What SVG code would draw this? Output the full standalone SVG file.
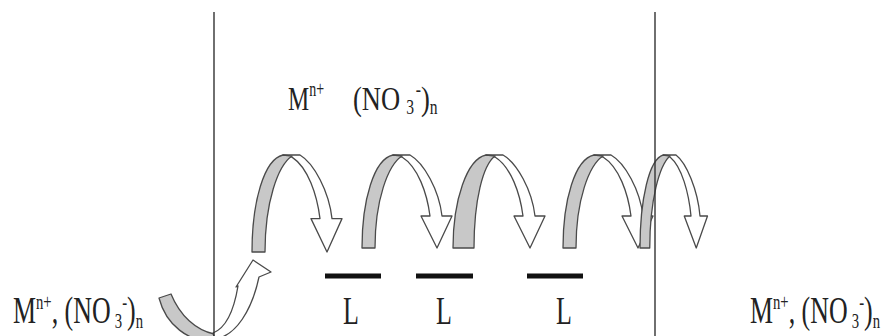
<svg xmlns="http://www.w3.org/2000/svg" width="883" height="336" viewBox="0 0 883 336">
<style>
.t{font-family:"Liberation Serif","Times New Roman",serif;fill:#222}
.g{fill:#c8c8c8;stroke:#4a4a4a;stroke-width:1.3;stroke-linejoin:round}
.w{fill:#fff;stroke:#4a4a4a;stroke-width:1.3;stroke-linejoin:round}
.m{stroke:#333;stroke-width:1.4;fill:none}
.bar{stroke:#111;stroke-width:5}
</style>
<defs>
<g id="hop">
<path class="w" vector-effect="non-scaling-stroke" d="M-9,0 L8,0 C22,8 37,35 40,61 L50,61 L35,93 L19,61 L28,61 C25,38 16,12 0,2 Z"/>
<path class="g" vector-effect="non-scaling-stroke" d="M-40,93 C-40,45 -28,4 -9,0 L0,1 C-14,10 -27,45 -27,93 Z"/>
</g>
<g id="hopWide">
<path class="w" d="M-9,0 L8,0 C22,8 37,35 40,61 L50,61 L35,93 L19,61 L28,61 C25,38 16,12 0,2 Z"/>
<path class="g" d="M-42,93 C-42,45 -28,4 -9,0 L0,1 C-12,10 -21,45 -21,93 Z"/>
</g>
</defs>
<g id="connectors">
<g id="entry-arrow">
<path class="g" d="M159,298 L171,294 C180,316 196,330 214,334 L215,342 C188,342 166,325 159,298 Z"/>
<path class="w" d="M213,333 C226,328 234,310 238,286 L236,287 L253,260 L271,272 L259,277 C252,310 236,336 215,339 Z"/>
</g>
<use id="hop1" href="#hop" transform="translate(292,155) scale(1,1.043)"/>
<use id="hop2" href="#hop" transform="translate(402,155)"/>
<use id="hop3" href="#hopWide" transform="translate(495,155)"/>
<use id="hop4" href="#hop" transform="translate(603,155)"/>
<use id="hop5" href="#hop" transform="translate(670,155) scale(0.75,1)"/>
</g>
<g id="membranes">
<line class="m" x1="214" y1="12" x2="214" y2="336"/>
<line class="m" x1="655" y1="12" x2="655" y2="336"/>
</g>
<g id="carrier-sites">
<g id="site1"><line class="bar" x1="325" y1="276" x2="381" y2="276"/><text class="t" font-size="40" transform="translate(343,324) scale(0.65,1)">L</text></g>
<g id="site2"><line class="bar" x1="416" y1="276" x2="473" y2="276"/><text class="t" font-size="40" transform="translate(436,324) scale(0.65,1)">L</text></g>
<g id="site3"><line class="bar" x1="527" y1="276" x2="583" y2="276"/><text class="t" font-size="40" transform="translate(556,324) scale(0.65,1)">L</text></g>
</g>
<g id="label-feed">
<text class="t" font-size="37" transform="translate(13,323) scale(0.7,1)">M<tspan font-size="21" dy="-14">n+</tspan><tspan dy="14">, (NO</tspan><tspan font-size="21" dx="6" dy="5">3</tspan><tspan font-size="21" dy="-19">-</tspan><tspan dy="14">)</tspan><tspan font-size="21" dy="5">n</tspan></text>
</g>
<g id="label-membrane">
<text class="t" font-size="34" transform="translate(288,110) scale(0.7,1)">M<tspan font-size="20" dy="-14">n+</tspan></text>
<text class="t" font-size="34" transform="translate(353,110) scale(0.78,1)">(NO<tspan font-size="20" dx="8" dy="4">3</tspan><tspan font-size="20" dx="2" dy="-18">-</tspan><tspan dy="14">)</tspan><tspan font-size="20" dy="4">n</tspan></text>
</g>
<g id="label-strip">
<text class="t" font-size="37" transform="translate(750,323) scale(0.7,1)">M<tspan font-size="21" dy="-14">n+</tspan><tspan dy="14">, (NO</tspan><tspan font-size="21" dx="6" dy="5">3</tspan><tspan font-size="21" dy="-19">-</tspan><tspan dy="14">)</tspan><tspan font-size="21" dy="5">n</tspan></text>
</g>
</svg>
